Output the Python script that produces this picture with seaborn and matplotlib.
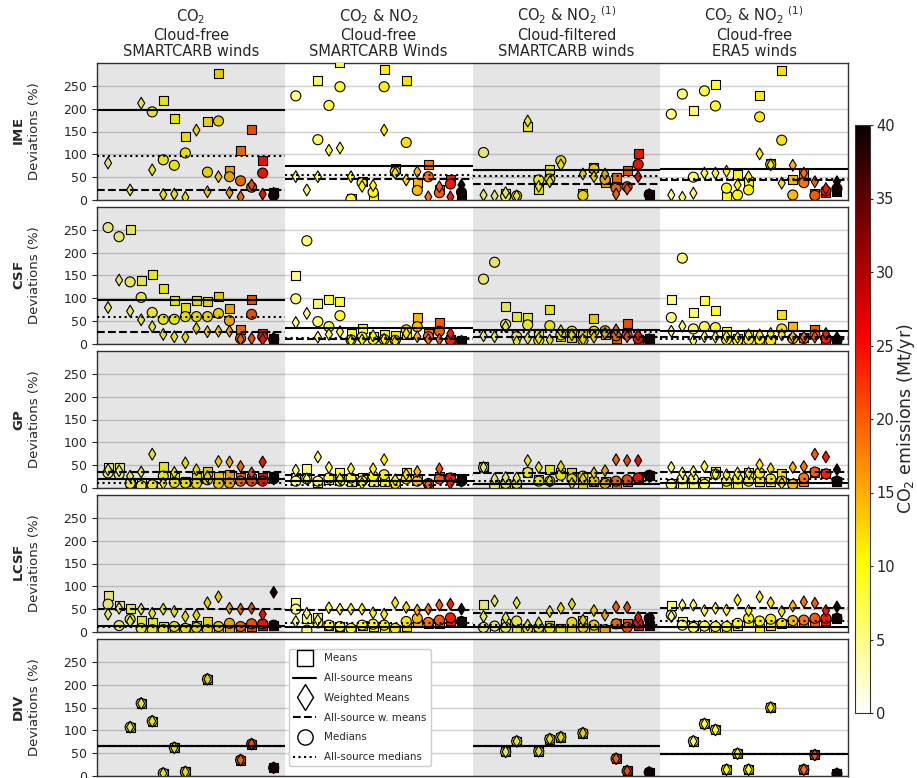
import numpy as np
import pandas as pd
import matplotlib.pyplot as plt
import matplotlib as mpl
from matplotlib.lines import Line2D
import seaborn as sns

nan = np.nan

# ----------------------
# Data
# ----------------------
metrics = ["IME", "CSF", "GP", "LCSF", "DIV"]
block_titles = [
    "CO$_2$\nCloud-free\nSMARTCARB winds",
    "CO$_2$ & NO$_2$\nCloud-free\nSMARTCARB Winds",
    "CO$_2$ & NO$_2$ $^{(1)}$\nCloud-filtered\nSMARTCARB winds",
    "CO$_2$ & NO$_2$ $^{(1)}$\nCloud-free\nERA5 winds",
]
# CO2 emissions of the 16 sources (Mt/yr), same order in every block
emissions = [5, 5.5, 6.5, 7.5, 8.5, 9.5, 10, 10.5, 11, 11.5, 12, 14.5, 18.5, 20, 24, 39]

# 4 blocks x 16 sources per list
ime_means = [nan, nan, nan, nan, nan, 217, 179, 140, nan, 171, 278, 65, 109, 154, 87, 16,
             nan, nan, 262, nan, 302, 4, 40, 7, 285, 70, 261, 38, 77, 24, 44, 5,
             nan, nan, 14, nan, 162, 24, 66, nan, nan, 15, 72, 38, 50, 65, 101, 13,
             nan, nan, 195, nan, 252, 7, 55, 40, 229, 81, 283, 44, 59, 15, 16, 18]
ime_wmeans = [81, nan, 22, 212, 66, 12, 13, 6, 153, 18, 51, 16, 7, 33, 13, 15,
              51, 22, 51, 109, 114, 51, 30, 32, 153, 59, 44, 62, 7, 29, 7, 33,
              11, 9, 16, 9, 173, 30, 40, 77, nan, 57, 51, 57, 13, 24, 51, 12,
              11, 6, 15, 59, 59, 63, 33, 51, 101, 77, 37, 76, 59, 40, 25, 40]
ime_medians = [nan, nan, nan, nan, 193, 88, 76, 103, nan, 61, 173, 51, 42, 28, 59, 10,
               228, nan, 132, 207, 248, 2, 38, 17, 248, 62, 126, 21, 51, 16, 35, 17,
               104, nan, 8, 9, nan, 44, 46, 86, nan, 10, 68, 45, 26, 29, 78, 12,
               188, 232, 50, 239, 206, 26, 11, 22, 182, 78, 131, 11, 38, 10, 20, 25]

csf_means = [nan, nan, 250, 140, 153, 122, 95, 80, 95, 93, 105, 77, 32, 98, 23, 12,
             151, nan, 88, 98, 93, 23, 34, 16, 20, 18, 20, 58, 23, 47, 10, 8,
             nan, nan, 83, 60, 58, 23, 76, 16, 15, 20, 55, 20, 12, 44, 10, 12,
             98, nan, 69, 96, 73, 27, 12, 20, 8, 10, 64, 38, 15, 31, 10, 8]
csf_wmeans = [80, 140, 72, 53, 38, 21, 16, 15, 34, 27, 28, 28, 10, 12, 10, 14,
              47, 67, 15, 21, 27, 7, 9, 18, 10, 5, 23, 16, 10, 10, 23, 6,
              18, 16, 38, 5, 12, 12, 9, 29, 20, 10, 15, 23, 31, 16, 20, 10,
              28, 39, 7, 16, 15, 16, 14, 20, 20, 23, 20, 16, 15, 15, 23, 14]
csf_medians = [255, 235, 136, 102, 69, 54, 54, 60, 60, 60, 67, 51, 12, 65, 16, 10,
               99, 226, 49, 38, 62, 9, 15, 10, 10, 8, 31, 38, 16, 28, 9, 6,
               142, 179, 43, 16, 42, 8, 40, 20, 28, 8, 28, 29, 18, 20, 12, 8,
               58, 188, 33, 38, 36, 10, 8, 10, 10, 8, 33, 12, 12, 20, 12, 8]

gp_means = [44, 45, 11, 11, 5, 47, 22, 15, 22, 36, 26, 29, 22, 20, 22, 25,
            22, 42, 12, 18, 34, 15, 22, 15, 15, 10, 35, 20, 8, 25, 22, 20,
            47, 8, 10, 8, 34, 18, 40, 33, 35, 10, 15, 15, 10, 15, 22, 28,
            10, 10, 10, 15, 36, 10, 10, 33, 15, 15, 31, 10, 15, 35, 31, 15]
gp_wmeans = [40, 38, 26, 35, 74, 10, 34, 55, 40, 25, 58, 57, 47, 33, 57, 20,
             39, 20, 68, 45, 20, 42, 10, 42, 62, 18, 30, 36, 8, 42, 10, 15,
             45, 20, 23, 22, 60, 45, 15, 47, 10, 20, 33, 38, 62, 60, 60, 25,
             45, 33, 36, 47, 30, 29, 33, 33, 51, 42, 10, 45, 47, 74, 68, 40]
gp_medians = [33, 30, 10, 5, 7, 26, 12, 11, 10, 18, 10, 11, 15, 15, 15, 20,
              15, 20, 15, 22, 15, 22, 15, 26, 29, 10, 20, 15, 10, 20, 22, 15,
              45, 5, 10, 10, 34, 15, 15, 28, 20, 26, 15, 10, 15, 18, 22, 28,
              8, 20, 20, 8, 30, 15, 20, 15, 33, 20, 15, 8, 22, 35, 31, 15]

lcsf_means = [79, 59, 52, 25, 20, 12, 8, 8, 15, 24, 8, 10, 10, 12, 15, 15,
              64, 30, 31, 15, 12, 5, 15, 12, 10, 5, 12, 20, 18, 18, 25, 23,
              61, 5, 19, 10, 5, 5, 15, 8, 10, 25, 10, 5, 18, 18, 15, 15,
              58, 24, 15, 8, 8, 10, 15, 20, 8, 15, 19, 20, 20, 20, 25, 30]
lcsf_wmeans = [39, 52, 23, 50, 41, 50, 45, 34, 37, 64, 77, 52, 50, 52, 39, 87,
               23, 41, 26, 53, 50, 50, 50, 42, 39, 64, 54, 48, 50, 59, 61, 50,
               34, 68, 31, 64, 15, 20, 45, 52, 61, 26, 47, 37, 55, 54, 32, 30,
               34, 59, 59, 47, 52, 48, 70, 47, 77, 64, 45, 57, 66, 63, 47, 55]
lcsf_medians = [61, 14, 28, 8, 5, 5, 12, 8, 10, 5, 12, 19, 12, 18, 18, 15,
                50, 4, 20, 15, 12, 8, 15, 17, 15, 8, 23, 30, 21, 26, 31, 23,
                10, 13, 10, 24, 8, 10, 8, 5, 21, 10, 15, 5, 18, 10, 20, 30,
                37, 15, 10, 13, 12, 12, 19, 30, 24, 28, 19, 25, 26, 30, 30, 30]

# DIV: means, weighted means and medians coincide
div_values = [nan, nan, 107, 159, 120, 6, 62, 9, nan, 212, nan, nan, 35, 70, nan, 18,
              nan, nan, nan, nan, nan, nan, nan, nan, nan, nan, nan, nan, nan, nan, nan, nan,
              nan, nan, 53, 76, nan, 54, 81, 85, nan, 94, nan, nan, 38, 11, nan, 8,
              nan, nan, 76, 114, 101, 14, 49, 14, nan, 150, nan, nan, 14, 46, nan, 5]

# all-source summary lines, one value per block
ime_all = {"means": [198, 74, 66, 68], "wmeans": [21, 46, 35, 43], "medians": [97, 55, 53, 46]}
csf_all = {"means": [96, 35, 31, 28], "wmeans": [26, 12, 16, 16], "medians": [60, 14, 27, 12]}
gp_all = {"means": [20, 15, 9, 11], "wmeans": [36, 29, 33, 36], "medians": [12, 7, 15, 20]}
lcsf_all = {"means": [13, 12, 12, 12], "wmeans": [50, 48, 41, 53], "medians": [12, 20, 15, 23]}
div_line = [65, nan, 65, 49]
div_all = {"means": div_line, "wmeans": div_line, "medians": div_line}

values = {
    "IME": {"means": ime_means, "wmeans": ime_wmeans, "medians": ime_medians},
    "CSF": {"means": csf_means, "wmeans": csf_wmeans, "medians": csf_medians},
    "GP": {"means": gp_means, "wmeans": gp_wmeans, "medians": gp_medians},
    "LCSF": {"means": lcsf_means, "wmeans": lcsf_wmeans, "medians": lcsf_medians},
    "DIV": {"means": div_values, "wmeans": div_values, "medians": div_values},
}
all_lines = {"IME": ime_all, "CSF": csf_all, "GP": gp_all, "LCSF": lcsf_all, "DIV": div_all}

n_src = len(emissions)
block_w = n_src + 1

rows = []
for m in metrics:
    for stat, vals in values[m].items():
        for i, v in enumerate(vals):
            b, k = divmod(i, n_src)
            rows.append({"metric": m, "stat": stat, "x": b * block_w + k + 1,
                         "value": v, "emission": emissions[k]})
df = pd.DataFrame(rows).dropna(subset=["value"])

# ----------------------
# Figure
# ----------------------
sns.set_style("ticks")
plt.rcParams["font.family"] = ["DejaVu Sans"]

W, H = 917, 778
fig = plt.figure(figsize=(W / 100, H / 100), dpi=100)

cmap = "hot_r"
norm = mpl.colors.Normalize(0, 40)
marker_spec = [("means", "s", 42), ("medians", "o", 52), ("wmeans", "d", 36)]
line_spec = [("means", "-"), ("wmeans", "--"), ("medians", ":")]

axes = []
for r, m in enumerate(metrics):
    top_px, bot_px = 63 + 144 * r, 200 + 144 * r
    ax = fig.add_axes([97 / W, 1 - bot_px / H, 751 / W, (bot_px - top_px) / H])
    axes.append(ax)

    ax.set_axisbelow(True)
    ax.yaxis.grid(True, color="#d0d0d0", lw=1, zorder=0)

    sub = df[df.metric == m]
    for stat, mk, s in marker_spec:
        d = sub[sub.stat == stat]
        sns.scatterplot(data=d, x="x", y="value", hue="emission", palette=cmap,
                        hue_norm=(0, 40), marker=mk, s=s, edgecolor="k",
                        linewidth=0.8, legend=False, ax=ax, zorder=3)

    for b in range(4):
        for stat, ls in line_spec:
            yv = all_lines[m][stat][b]
            if not np.isnan(yv):
                ax.hlines(yv, b * block_w, (b + 1) * block_w, color="k",
                          ls=ls, lw=1.5, zorder=4)

    # grey shading on the 1st and 3rd block
    for b in (0, 2):
        ax.axvspan(b * block_w, (b + 1) * block_w, color="k", alpha=0.1, lw=0, zorder=5)

    ax.set_xlim(0, 4 * block_w)
    ax.set_ylim(0, 300)
    ax.set_yticks(np.arange(0, 300, 50))
    ax.set_xticks([])
    ax.set_xlabel("")
    ax.set_ylabel(r"$\bf{" + m + "}$" + "\nDeviations (%)", fontsize=9.5, labelpad=16)
    ax.tick_params(axis="y", labelsize=9, length=3.5)
    for sp in ax.spines.values():
        sp.set_visible(True)
        sp.set_color("#333333")
        sp.set_linewidth(1)

# column titles
for b, t in enumerate(block_titles):
    axes[0].text(b * block_w + block_w / 2, 1.03, t, transform=axes[0].get_xaxis_transform(),
                 ha="center", va="bottom", fontsize=10.5, linespacing=1.1)

# legend
handles = [
    Line2D([], [], marker="s", ls="none", mfc="white", mec="k", ms=11, label="Means"),
    Line2D([], [], color="k", ls="-", lw=1.5, label="All-source means"),
    Line2D([], [], marker="d", ls="none", mfc="white", mec="k", ms=13, label="Weighted Means"),
    Line2D([], [], color="k", ls="--", lw=1.5, label="All-source w. means"),
    Line2D([], [], marker="o", ls="none", mfc="white", mec="k", ms=11, label="Medians"),
    Line2D([], [], color="k", ls=":", lw=1.5, label="All-source medians"),
]
axes[-1].legend(handles=handles, loc="upper left", bbox_to_anchor=(0.256, 0.925),
                borderaxespad=0, fontsize=7.4, labelspacing=0.95, handlelength=2.2,
                framealpha=1, edgecolor="#cccccc")

# colorbar
cax = fig.add_axes([855 / W, 1 - 713 / H, 15 / W, 588 / H])
sm = mpl.cm.ScalarMappable(norm=norm, cmap=cmap)
cb = fig.colorbar(sm, cax=cax, ticks=np.arange(0, 41, 5))
cb.ax.tick_params(labelsize=10.5, length=2.5, pad=2)
cb.set_label("CO$_2$ emissions (Mt/yr)", fontsize=12.5, labelpad=0)
cb.outline.set_edgecolor("#333333")

fig.savefig("out.png", dpi=100)
